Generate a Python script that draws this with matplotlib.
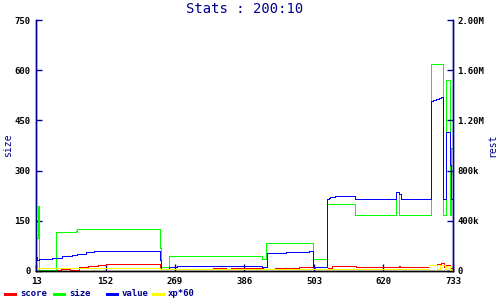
import matplotlib
matplotlib.use("Agg")
import matplotlib.pyplot as plt
from matplotlib.lines import Line2D

# ---- data (x = sample position along the axis, 0..720) ----
xtick_labels = ["13", "152", "269", "386", "503", "620", "733"]

size_x = [0, 3.5, 5.5, 34.5, 69, 71.3, 214.6, 216.3, 229.6, 390.2, 397.1, 478.8,
          503, 551.3, 621.6, 627.3, 681.5, 703.2, 707.9, 714.8, 717.1, 720]
size_y = [100, 195, 3, 116, 120, 125, 69, 11, 44, 35, 84, 35,
          199, 167, 236, 167, 618, 167, 571, 167, 368, 368]

value_x = [0, 2.2, 5, 10.9, 28.1, 45.4, 62.7, 71.3, 85.8, 100.1, 116.2, 214.6, 216.3,
           229.6, 242.9, 390.2, 398.8, 431.7, 471.9, 477.8, 478.8, 503, 505.9, 508.1,
           515.7, 551.3, 621.6, 627.3, 629.7, 681.5, 686, 691, 696, 699.8, 702.2,
           707.9, 714.8, 717.1, 720]
value_y = [110e3, 88e3, 94e3, 98e3, 106e3, 118e3, 128e3, 136e3, 150e3, 158e3, 162e3, 88e3, 14e3,
           30e3, 38e3, 30e3, 144e3, 152e3, 160e3, 88e3, 30e3, 574e3, 582e3, 590e3,
           600e3, 574e3, 630e3, 614e3, 574e3, 1354e3, 1362e3, 1370e3, 1378e3, 1386e3, 574e3,
           1106e3, 848e3, 574e3, 574e3]

score_x = [0, 35.7, 42.6, 58.7, 74.8, 90.3, 106.5, 121.4, 214.6, 305.1, 327.2, 336.7,
           392.5, 412.7, 454.1, 481.2, 504.7, 510.6, 552, 626.8, 628, 678.6, 691.8,
           699.8, 703.9, 707.9, 714.8, 720]
score_y = [2e3, 8e3, 16e3, 8e3, 30e3, 38e3, 46e3, 54e3, 12e3, 26e3, 14e3, 26e3,
           14e3, 26e3, 34e3, 16e3, 26e3, 42e3, 34e3, 42e3, 34e3, 48e3, 56e3,
           64e3, 34e3, 48e3, 24e3, 24e3]

xp_x = [0, 3.5, 214.6, 678.6, 691.8, 697.5, 705.6, 707.9, 714.8, 720]
xp_y = [16e3, 24e3, 12e3, 48e3, 16e3, 48e3, 16e3, 40e3, 8e3, 8e3]

NAVY = "#00008b"
MONO = "DejaVu Sans Mono"

fig = plt.figure(figsize=(5, 3), dpi=100)
fig.patch.set_facecolor("white")
ax = fig.add_axes([36 / 500, 29 / 300, 417 / 500, 251 / 300])
ax2 = ax.twinx()

lw = 0.72
ax.plot(size_x, size_y, drawstyle="steps-post", color="#00ff00", lw=lw, antialiased=False)
ax2.plot(score_x, score_y, drawstyle="steps-post", color="#ff0000", lw=lw, antialiased=False)
ax2.plot(value_x, value_y, drawstyle="steps-post", color="#0000ff", lw=lw, antialiased=False)
ax2.plot(xp_x, xp_y, drawstyle="steps-post", color="#ffff00", lw=lw, antialiased=False)

ax.set_xlim(0, 720)
ax.set_ylim(0, 750)
ax2.set_ylim(0, 2e6)
ax.set_xticks([0, 120, 240, 360, 480, 600, 720])
ax.set_xticklabels(xtick_labels)
ax.set_yticks([0, 150, 300, 450, 600, 750])
ax2.set_yticks([0, 400e3, 800e3, 1.2e6, 1.6e6, 2.0e6])
ax2.set_yticklabels(["0", "400k", "800k", "1.20M", "1.60M", "2.00M"])

for a in (ax, ax2):
    a.spines["top"].set_visible(False)
    a.spines["left"].set_color(NAVY)
    a.spines["right"].set_color(NAVY)
    a.spines["bottom"].set_color("black")
    for s in a.spines.values():
        s.set_linewidth(1.0)
    a.patch.set_visible(False)

ax.tick_params(axis="y", direction="in", length=4, width=1, color=NAVY, pad=4,
               labelsize=6.5, labelcolor="black")
ax.tick_params(axis="x", direction="in", length=5, width=1, color=NAVY, pad=4,
               labelsize=6.5, labelcolor="black")
ax2.tick_params(axis="y", direction="in", length=4, width=1, color=NAVY, pad=3,
                labelsize=6.5, labelcolor="black")
for lab in ax.get_xticklabels() + ax.get_yticklabels() + ax2.get_yticklabels():
    lab.set_family(MONO)
    lab.set_weight("bold")

fig.text(244.5 / 500, 1 - 9 / 300, "Stats : 200:10", ha="center", va="center",
         fontsize=10, family=MONO, color=NAVY)
fig.text(8 / 500, 1 - 145 / 300, "size", rotation=90, ha="center", va="center",
         fontsize=7, family=MONO, color=NAVY)
fig.text(492 / 500, 1 - 145 / 300, "rest", rotation=90, ha="center", va="center",
         fontsize=7, family=MONO, color=NAVY)

# legend
leg_names = ["score", "size", "value", "xp*60"]
leg_colors = ["#ff0000", "#00ff00", "#0000ff", "#ffff00"]
leg_x = [4, 53, 106, 152]
ly = 1 - 294 / 300
for name, col, x0 in zip(leg_names, leg_colors, leg_x):
    fig.add_artist(Line2D([x0 / 500, (x0 + 12) / 500], [ly, ly], color=col, lw=2.0,
                          transform=fig.transFigure, antialiased=False,
                          solid_capstyle="butt"))
    fig.text((x0 + 16) / 500, ly, name, ha="left", va="center", fontsize=6.5,
             family=MONO, weight="bold", color=NAVY)

fig.savefig("out.png", dpi=100)
